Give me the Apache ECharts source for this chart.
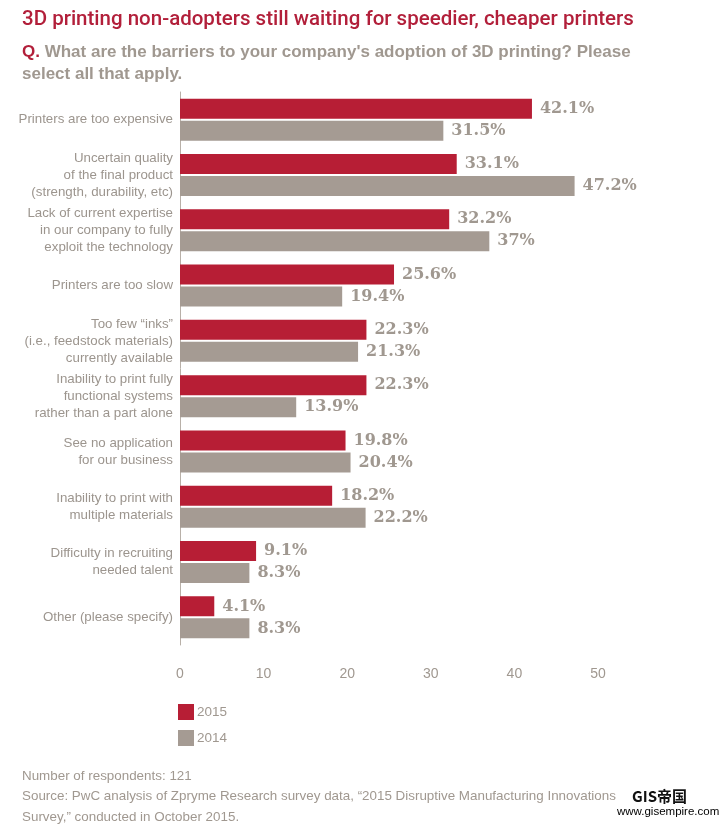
<!DOCTYPE html>
<html style="height: 100%">
  <head>
    <meta charset="utf-8" />
    <title>3D printing barriers</title>
    <script src="https://cdn.jsdelivr.net/npm/echarts@6/dist/echarts.min.js"></script>
  </head>
  <body style="height: 100%; margin: 0; background: #fff">
    <div id="container" style="width: 719px; height: 828px"></div>
    <script type="text/javascript">
      // categories, top to bottom
      let categories = [
        "Printers are too expensive",
        "Uncertain quality\nof the final product\n(strength, durability, etc)",
        "Lack of current expertise\nin our company to fully\nexploit the technology",
        "Printers are too slow",
        "Too few \u201cinks\u201d\n(i.e., feedstock materials)\ncurrently available",
        "Inability to print fully\nfunctional systems\nrather than a part alone",
        "See no application\nfor our business",
        "Inability to print with\nmultiple materials",
        "Difficulty in recruiting\nneeded talent",
        "Other (please specify)"
      ];
      let values2015 = [42.1, 33.1, 32.2, 25.6, 22.3, 22.3, 19.8, 18.2, 9.1, 4.1];
      let values2014 = [31.5, 47.2, 37, 19.4, 21.3, 13.9, 20.4, 22.2, 8.3, 8.3];
      let xTicks = [0, 10, 20, 30, 40, 50];

      let red = "#b71e35";
      let grey = "#a59b93";
      let textGrey = "#a09890";
      let labelFont = "'DejaVu Serif', Georgia, serif";

      let chart = echarts.init(document.getElementById("container"));

      let barLabel = {
        show: true,
        position: "right",
        distance: 8,
        color: textGrey,
        fontFamily: labelFont,
        fontWeight: "bold",
        fontSize: 16,
        formatter: (p) => p.value + "%"
      };

      chart.setOption({
        backgroundColor: "#fff",
        animation: false,
        legend: {
          orient: "vertical",
          left: 178,
          top: 704,
          padding: 0,
          itemWidth: 16,
          itemHeight: 16,
          itemGap: 10,
          icon: "rect",
          textStyle: {
            color: textGrey,
            fontSize: 13.5,
            padding: [0, 0, 0, -2],
            fontFamily: "'Liberation Sans', sans-serif"
          },
          data: ["2015", "2014"]
        },
        grid: { left: 180, right: 121, top: 92, bottom: 183, containLabel: false },
        xAxis: {
          type: "value",
          min: xTicks[0],
          max: xTicks[xTicks.length - 1],
          interval: 10,
          axisLine: { show: false },
          axisTick: { show: false },
          splitLine: { show: false },
          axisLabel: {
            margin: 22,
            color: textGrey,
            fontSize: 14,
            fontFamily: "'Liberation Sans', sans-serif"
          }
        },
        yAxis: {
          type: "category",
          inverse: true,
          data: categories,
          axisLine: { show: true, lineStyle: { color: "#b8b0a8", width: 1 } },
          axisTick: { show: false },
          axisLabel: {
            margin: 7,
            color: "#9c958e",
            fontSize: 13.3,
            lineHeight: 17,
            align: "right",
            fontFamily: "'Liberation Sans', sans-serif"
          }
        },
        series: [
          {
            name: "2015",
            type: "bar",
            data: values2015,
            barWidth: 20,
            barGap: "10%",
            itemStyle: { color: red },
            label: barLabel
          },
          {
            name: "2014",
            type: "bar",
            data: values2014,
            barWidth: 20,
            itemStyle: { color: grey },
            label: barLabel
          }
        ],
        graphic: [
          {
            type: "text",
            left: 22,
            top: 9,
            style: {
              text: "3D printing non-adopters still waiting for speedier, cheaper printers",
              fill: "#b21f3a",
              font: "500 20.5px Roboto, 'Liberation Sans', sans-serif"
            }
          },
          {
            type: "text",
            left: 22,
            top: 41,
            style: {
              text: "{q|Q.} What are the barriers to your company's adoption of 3D printing? Please\nselect all that apply.",
              fill: textGrey,
              font: "bold 17px 'Liberation Sans', sans-serif",
              lineHeight: 22,
              rich: {
                q: {
                  fill: "#b21f3a",
                  font: "bold 17px 'Liberation Sans', sans-serif"
                }
              }
            }
          },
          {
            type: "text",
            left: 22,
            top: 766,
            style: {
              text: "Number of respondents: 121\nSource: PwC analysis of Zpryme Research survey data, \u201c2015 Disruptive Manufacturing Innovations\nSurvey,\u201d conducted in October 2015.",
              fill: textGrey,
              font: "13.4px 'Liberation Sans', sans-serif",
              lineHeight: 20.5
            }
          },
          {
            type: "text",
            left: 632,
            top: 789,
            style: {
              text: "GIS\u5e1d\u56fd",
              fill: "#111",
              font: "bold 15px 'Noto Sans CJK SC', serif"
            }
          },
          {
            type: "text",
            left: 617,
            top: 806,
            style: {
              text: "www.gisempire.com",
              fill: "#000",
              font: "11.5px 'Liberation Sans', sans-serif"
            }
          }
        ]
      });
    </script>
  </body>
</html>
